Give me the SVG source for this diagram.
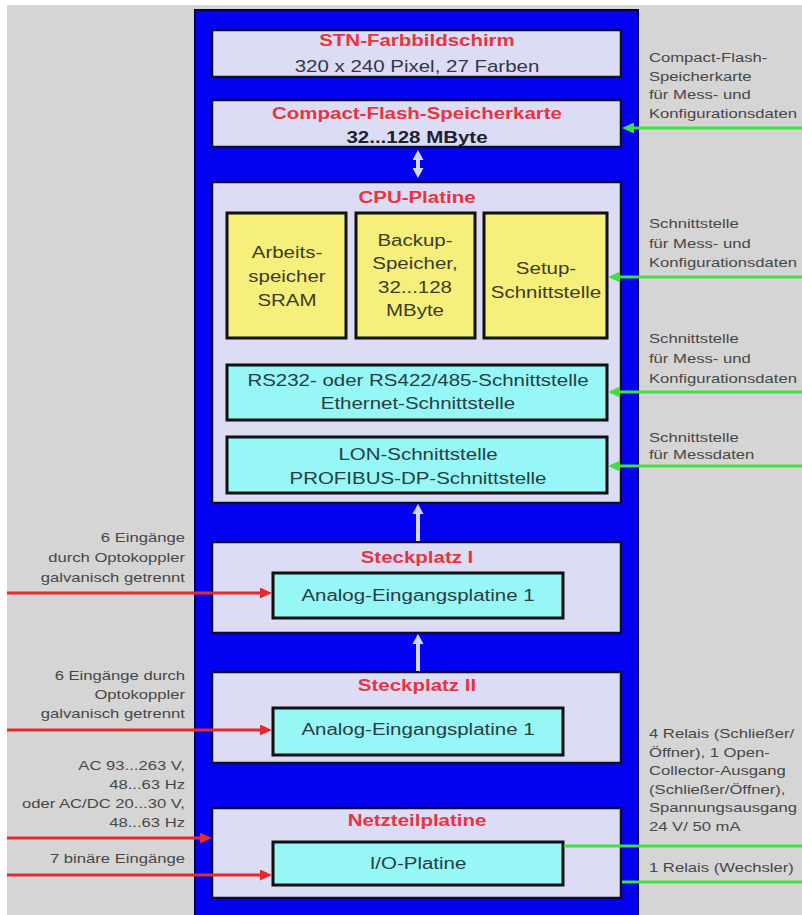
<svg xmlns="http://www.w3.org/2000/svg" width="802" height="915" viewBox="0 0 802 915">
<style>
text { font-family: "Liberation Sans", Arial, sans-serif; }
.bx { font-size: 16px; text-anchor: middle; }
.ttl { font-weight: bold; fill: #e8343f; }
.lav { fill: #35354a; }
.yel { fill: #3c3c25; }
.cya { fill: #263f44; }
.sm { font-size: 13px; fill: #474747; }
.smr { font-size: 13px; fill: #474747; text-anchor: end; }
.frame { fill: #dcdcf5; stroke: #0c0c30; stroke-width: 2.5; }
.ybox { fill: #f6ef7c; stroke: #101010; stroke-width: 3; }
.cbox { fill: #97f6f6; stroke: #101010; stroke-width: 3; }
.gline { stroke: #3fe03f; stroke-width: 3; fill: none; }
.rline { stroke: #e42a2a; stroke-width: 3; fill: none; }
.wline { stroke: #d6d6fa; stroke-width: 4; fill: none; }
</style>
<defs>
<marker id="ag" markerUnits="userSpaceOnUse" markerWidth="13" markerHeight="11" refX="3" refY="5.5" orient="auto">
<path d="M0,0 L12,5.5 L0,11 z" fill="#3fe03f"/>
</marker>
<marker id="ar" markerUnits="userSpaceOnUse" markerWidth="13" markerHeight="11" refX="3" refY="5.5" orient="auto">
<path d="M0,0 L12,5.5 L0,11 z" fill="#e42a2a"/>
</marker>
<marker id="aw" markerUnits="userSpaceOnUse" markerWidth="11" markerHeight="11" refX="3" refY="5.5" orient="auto-start-reverse">
<path d="M0,0 L10,5.5 L0,11 z" fill="#d6d6fa"/>
</marker>
</defs>

<rect x="0" y="0" width="802" height="915" fill="#ffffff"/>
<rect x="7" y="5" width="795" height="910" fill="#d5d5d5"/>

<g id="gehaeuse">
<rect x="195" y="10" width="443" height="915" fill="#0303f2" stroke="#00004a" stroke-width="2"/>
</g>

<g id="stn">
<rect class="frame" x="212" y="30" width="409" height="47"/>
<text class="bx ttl" transform="translate(417 46) scale(1.28 1)">STN-Farbbildschirm</text>
<text class="bx lav" transform="translate(417 72) scale(1.28 1)">320 x 240 Pixel, 27 Farben</text>
</g>

<g id="cf">
<rect class="frame" x="212" y="100" width="409" height="47"/>
<text class="bx ttl" transform="translate(417 119) scale(1.28 1)">Compact-Flash-Speicherkarte</text>
<text class="bx" font-weight="bold" fill="#202030" transform="translate(417 143) scale(1.28 1)">32...128 MByte</text>
</g>

<g id="cpu">
<rect class="frame" x="212" y="182" width="409" height="321"/>
<text class="bx ttl" transform="translate(417 203) scale(1.28 1)">CPU-Platine</text>
</g>

<g id="sram">
<rect class="ybox" x="227" y="213" width="119" height="125"/>
<text class="bx yel" transform="translate(287 258) scale(1.28 1)">Arbeits-</text>
<text class="bx yel" transform="translate(287 282) scale(1.28 1)">speicher</text>
<text class="bx yel" transform="translate(287 306) scale(1.28 1)">SRAM</text>
</g>

<g id="backup">
<rect class="ybox" x="356" y="213" width="119" height="125"/>
<text class="bx yel" transform="translate(415 246) scale(1.28 1)">Backup-</text>
<text class="bx yel" transform="translate(415 269) scale(1.28 1)">Speicher,</text>
<text class="bx yel" transform="translate(415 293) scale(1.28 1)">32...128</text>
<text class="bx yel" transform="translate(415 316) scale(1.28 1)">MByte</text>
</g>

<g id="setup">
<rect class="ybox" x="484" y="213" width="123" height="125"/>
<text class="bx yel" transform="translate(546 274) scale(1.28 1)">Setup-</text>
<text class="bx yel" transform="translate(546 298) scale(1.28 1)">Schnittstelle</text>
</g>

<g id="rs">
<rect class="cbox" x="227" y="365" width="380" height="55"/>
<text class="bx cya" transform="translate(418 386) scale(1.28 1)">RS232- oder RS422/485-Schnittstelle</text>
<text class="bx cya" transform="translate(418 409) scale(1.28 1)">Ethernet-Schnittstelle</text>
</g>

<g id="lon">
<rect class="cbox" x="227" y="437" width="380" height="56"/>
<text class="bx cya" transform="translate(418 460) scale(1.28 1)">LON-Schnittstelle</text>
<text class="bx cya" transform="translate(418 484) scale(1.28 1)">PROFIBUS-DP-Schnittstelle</text>
</g>

<g id="steckplatz1">
<rect class="frame" x="212" y="542" width="409" height="91"/>
<text class="bx ttl" transform="translate(417 563) scale(1.28 1)">Steckplatz I</text>
</g>

<g id="analog1">
<rect class="cbox" x="273" y="573" width="290" height="45"/>
<text class="bx cya" transform="translate(418 601) scale(1.28 1)">Analog-Eingangsplatine 1</text>
</g>

<g id="steckplatz2">
<rect class="frame" x="212" y="672" width="409" height="91"/>
<text class="bx ttl" transform="translate(417 691) scale(1.28 1)">Steckplatz II</text>
</g>

<g id="analog2">
<rect class="cbox" x="273" y="708" width="290" height="47"/>
<text class="bx cya" transform="translate(418 735) scale(1.28 1)">Analog-Eingangsplatine 1</text>
</g>

<g id="netzteil">
<rect class="frame" x="212" y="808" width="409" height="90"/>
<text class="bx ttl" transform="translate(417 826) scale(1.28 1)">Netzteilplatine</text>
</g>

<g id="io">
<rect class="cbox" x="273" y="842" width="290" height="43"/>
<text class="bx cya" transform="translate(418 869) scale(1.28 1)">I/O-Platine</text>
</g>

<g id="labels-right">
<text class="sm" transform="translate(649 62) scale(1.28 1)">Compact-Flash-</text>
<text class="sm" transform="translate(649 80.5) scale(1.28 1)">Speicherkarte</text>
<text class="sm" transform="translate(649 99) scale(1.28 1)">für Mess- und</text>
<text class="sm" transform="translate(649 117.5) scale(1.28 1)">Konfigurationsdaten</text>
<text class="sm" transform="translate(649 228) scale(1.28 1)">Schnittstelle</text>
<text class="sm" transform="translate(649 247.5) scale(1.28 1)">für Mess- und</text>
<text class="sm" transform="translate(649 267) scale(1.28 1)">Konfigurationsdaten</text>
<text class="sm" transform="translate(649 343) scale(1.28 1)">Schnittstelle</text>
<text class="sm" transform="translate(649 363) scale(1.28 1)">für Mess- und</text>
<text class="sm" transform="translate(649 383) scale(1.28 1)">Konfigurationsdaten</text>
<text class="sm" transform="translate(649 442) scale(1.28 1)">Schnittstelle</text>
<text class="sm" transform="translate(649 459) scale(1.28 1)">für Messdaten</text>
<text class="sm" transform="translate(649 738) scale(1.28 1)">4 Relais (Schließer/</text>
<text class="sm" transform="translate(649 756.6) scale(1.28 1)">Öffner), 1 Open-</text>
<text class="sm" transform="translate(649 775.2) scale(1.28 1)">Collector-Ausgang</text>
<text class="sm" transform="translate(649 793.8) scale(1.28 1)">(Schließer/Öffner),</text>
<text class="sm" transform="translate(649 812.4) scale(1.28 1)">Spannungsausgang</text>
<text class="sm" transform="translate(649 831) scale(1.28 1)">24 V/ 50 mA</text>
<text class="sm" transform="translate(649 872) scale(1.28 1)">1 Relais (Wechsler)</text>
</g>

<g id="labels-left">
<text class="smr" transform="translate(185 541.5) scale(1.28 1)">6 Eingänge</text>
<text class="smr" transform="translate(185 561.5) scale(1.28 1)">durch Optokoppler</text>
<text class="smr" transform="translate(185 581.5) scale(1.28 1)">galvanisch getrennt</text>
<text class="smr" transform="translate(185 680) scale(1.28 1)">6 Eingänge durch</text>
<text class="smr" transform="translate(185 698.5) scale(1.28 1)">Optokoppler</text>
<text class="smr" transform="translate(185 718) scale(1.28 1)">galvanisch getrennt</text>
<text class="smr" transform="translate(185 770) scale(1.28 1)">AC 93...263 V,</text>
<text class="smr" transform="translate(185 788.5) scale(1.28 1)">48...63 Hz</text>
<text class="smr" transform="translate(185 807.5) scale(1.28 1)">oder AC/DC 20...30 V,</text>
<text class="smr" transform="translate(185 826.5) scale(1.28 1)">48...63 Hz</text>
<text class="smr" transform="translate(185 863) scale(1.28 1)">7 binäre Eingänge</text>
</g>

<g id="connectors">
<line class="wline" x1="418" y1="157" x2="418" y2="171" marker-start="url(#aw)" marker-end="url(#aw)"/>
<line class="wline" x1="418" y1="541" x2="418" y2="511" marker-end="url(#aw)"/>
<line class="wline" x1="418" y1="671" x2="418" y2="641" marker-end="url(#aw)"/>

<line class="gline" x1="802" y1="128" x2="631" y2="128" marker-end="url(#ag)"/>
<line class="gline" x1="802" y1="277" x2="617" y2="277" marker-end="url(#ag)"/>
<line class="gline" x1="802" y1="392" x2="617" y2="392" marker-end="url(#ag)"/>
<line class="gline" x1="802" y1="466" x2="617" y2="466" marker-end="url(#ag)"/>
<line class="gline" x1="564" y1="846" x2="802" y2="846"/>
<line class="gline" x1="622" y1="882" x2="802" y2="882"/>

<line class="rline" x1="7" y1="593" x2="263" y2="593" marker-end="url(#ar)"/>
<line class="rline" x1="7" y1="730" x2="263" y2="730" marker-end="url(#ar)"/>
<line class="rline" x1="7" y1="838" x2="203" y2="838" marker-end="url(#ar)"/>
<line class="rline" x1="7" y1="875" x2="263" y2="875" marker-end="url(#ar)"/>
</g>
</svg>
